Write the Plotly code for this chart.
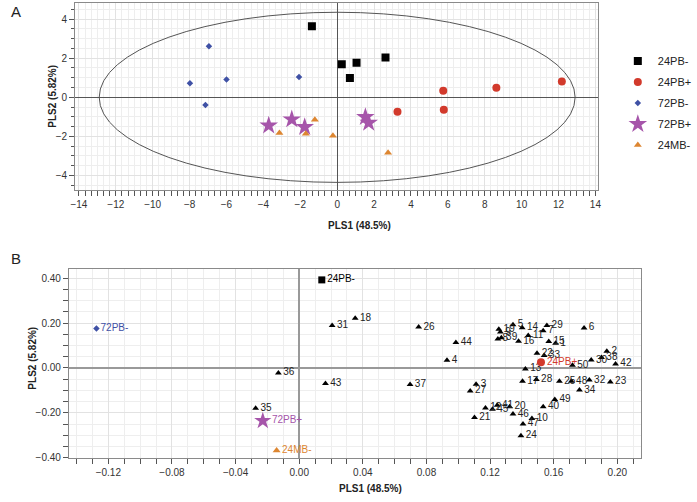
import plotly.graph_objects as go

# ---------------- Panel A data (PLS scores) ----------------
a_24pb_minus_x = [-1.37, 0.25, 1.05, 0.69, 2.62]
a_24pb_minus_y = [3.63, 1.69, 1.77, 0.99, 2.03]
a_24pb_plus_x = [12.18, 8.63, 5.75, 5.78, 3.27]
a_24pb_plus_y = [0.81, 0.49, 0.34, -0.64, -0.74]
a_72pb_minus_x = [-6.95, -7.98, -6.00, -2.07, -7.14]
a_72pb_minus_y = [2.61, 0.72, 0.91, 1.04, -0.39]
a_72pb_plus_x = [-3.71, -2.46, -1.76, 1.53, 1.71]
a_72pb_plus_y = [-1.44, -1.13, -1.52, -1.01, -1.30]
a_24mb_minus_x = [-3.13, -1.70, -1.21, -0.23, 2.76]
a_24mb_minus_y = [-1.82, -1.86, -1.15, -1.96, -2.84]
ellipse_rx = 12.9
ellipse_ry = 4.35

# ---------------- Panel B data (loadings) ----------------
b_group_names = ["24PB-", "24PB+", "72PB-", "72PB+", "24MB-"]
b_group_x = [0.0142, 0.1520, -0.1275, -0.0229, -0.0142]
b_group_y = [0.392, 0.025, 0.176, -0.235, -0.367]

b_var_labels = [str(i) for i in range(1, 51)]
b_var_x = [0.1612, 0.1934, 0.1112, 0.0929, 0.1344, 0.1791, 0.1534, 0.1249, 0.1265, 0.1463,
           0.1440, 0.1171, 0.1422, 0.1402, 0.1569, 0.1379, 0.1404, 0.0352, 0.1255, 0.1323,
           0.1102, 0.1495, 0.1956, 0.1394, 0.1636, 0.0751, 0.1075, 0.1491, 0.1557, 0.1836,
           0.0207, 0.1824, 0.1540, 0.1762, -0.0274, -0.0131, 0.0697, 0.1901, 0.1271, 0.1534,
           0.1245, 0.1989, 0.0165, 0.0985, 0.1215, 0.1344, 0.1407, 0.1711, 0.1607, 0.1718]
b_var_y = [0.110, 0.075, -0.072, 0.034, 0.192, 0.178, 0.166, 0.129, 0.160, -0.225,
           0.145, -0.178, -0.004, 0.179, 0.118, 0.119, -0.059, 0.221, 0.172, -0.173,
           -0.220, 0.066, -0.062, -0.301, -0.059, 0.182, -0.102, -0.051, 0.189, 0.035,
           0.189, -0.054, 0.056, -0.098, -0.179, -0.022, -0.073, 0.047, 0.135, -0.173,
           -0.166, 0.018, -0.069, 0.113, -0.184, -0.205, -0.249, -0.059, -0.140, 0.012]

# ---------------- styles ----------------
group_styles = {
    "24PB-": dict(color="#000000", symbol="square", a_size=8, b_size=7),
    "24PB+": dict(color="#d23a2c", symbol="circle", a_size=8, b_size=8),
    "72PB-": dict(color="#3f51a5", symbol="diamond", a_size=5, b_size=5),
    "72PB+": dict(color="#a655aa", symbol="star", a_size=14, b_size=13),
    "24MB-": dict(color="#dd8631", symbol="triangle-up", a_size=7, b_size=7),
}
a_data = {
    "24PB-": (a_24pb_minus_x, a_24pb_minus_y),
    "24PB+": (a_24pb_plus_x, a_24pb_plus_y),
    "72PB-": (a_72pb_minus_x, a_72pb_minus_y),
    "72PB+": (a_72pb_plus_x, a_72pb_plus_y),
    "24MB-": (a_24mb_minus_x, a_24mb_minus_y),
}

FONT = "Liberation Sans, Arial, sans-serif"
W, H = 697, 502

fig = go.Figure()

for name in b_group_names:
    st = group_styles[name]
    xs, ys = a_data[name]
    fig.add_trace(go.Scatter(
        x=xs, y=ys, mode="markers", name=name, xaxis="x", yaxis="y",
        legendgroup=name,
        marker=dict(symbol=st["symbol"], size=st["a_size"], color=st["color"],
                    line=dict(width=0)),
        showlegend=True,
    ))

# panel B variables
fig.add_trace(go.Scatter(
    x=b_var_x, y=b_var_y, mode="markers+text", text=b_var_labels,
    textposition="middle right", textfont=dict(family=FONT, size=10, color="#222222"),
    marker=dict(symbol="triangle-up", size=6, color="#000000"),
    xaxis="x2", yaxis="y2", showlegend=False, cliponaxis=False,
))
# panel B groups
for i, name in enumerate(b_group_names):
    st = group_styles[name]
    fig.add_trace(go.Scatter(
        x=[b_group_x[i]], y=[b_group_y[i]], mode="markers+text", text=[name],
        textposition="middle right",
        textfont=dict(family=FONT, size=10, color=st["color"]),
        marker=dict(symbol=st["symbol"], size=st["b_size"], color=st["color"], line=dict(width=0)),
        xaxis="x2", yaxis="y2", showlegend=False, cliponaxis=False,
    ))

def px_x(p):
    return p / W

def px_y(p):
    return 1 - p / H

axis_common = dict(
    showgrid=True, gridcolor="#e2e2e2", gridwidth=1,
    showline=True, linecolor="#8a8a8a", linewidth=1, mirror=True,
    ticks="outside", ticklen=5, tickcolor="#555555",
    tickfont=dict(family=FONT, size=10, color="#333333"),
    zeroline=True,
)

fig.update_layout(
    width=W, height=H,
    margin=dict(l=0, r=0, t=0, b=0),
    paper_bgcolor="white", plot_bgcolor="white",
    font=dict(family=FONT, size=10, color="#222222"),
    xaxis=dict(axis_common, domain=[px_x(72), px_x(610)], anchor="y",
               range=[-14.21, 14.16], dtick=2, tick0=0,
               minor=dict(dtick=2 / 6, showgrid=True, gridcolor="#eeeeee", ticks="outside",
                          ticklen=5, tickcolor="#555555"),
               zerolinecolor="#555555", zerolinewidth=1),
    yaxis=dict(axis_common, domain=[px_y(192), px_y(3)], anchor="x",
               range=[-4.744, 4.825], dtick=2, tick0=0,
               minor=dict(dtick=0.5, showgrid=True, gridcolor="#eeeeee", ticks="outside",
                          ticklen=3, tickcolor="#555555"),
               zerolinecolor="#555555", zerolinewidth=1),
    xaxis2=dict(axis_common, domain=[px_x(65.7), px_x(654)], anchor="y2",
                range=[-0.1448, 0.2150], dtick=0.04, tick0=0, tickformat=".2f",
                minor=dict(dtick=0.01, showgrid=True, gridcolor="#eeeeee", ticks="outside",
                           ticklen=5, tickcolor="#555555"),
                zerolinecolor="#999999", zerolinewidth=2),
    yaxis2=dict(axis_common, domain=[px_y(462.7), px_y(271.7)], anchor="x2",
                range=[-0.4009, 0.4405], dtick=0.2, tick0=0, tickformat=".2f",
                minor=dict(dtick=0.05, showgrid=True, gridcolor="#eeeeee", ticks="outside",
                           ticklen=5, tickcolor="#555555"),
                zerolinecolor="#999999", zerolinewidth=2),
    legend=dict(x=px_x(630), y=px_y(47), xanchor="left", yanchor="top",
                font=dict(family=FONT, size=11, color="#222222"),
                bgcolor="rgba(0,0,0,0)", tracegroupgap=2, itemwidth=30),
    shapes=[dict(type="circle", xref="x", yref="y",
                 x0=-ellipse_rx, x1=ellipse_rx, y0=-ellipse_ry, y1=ellipse_ry,
                 line=dict(color="#555555", width=1), layer="above")],
    annotations=[
        dict(text="A", x=px_x(4), y=px_y(12), xref="paper", yref="paper", showarrow=False,
             xanchor="left", yanchor="middle", font=dict(family=FONT, size=15, color="#222222")),
        dict(text="B", x=px_x(4), y=px_y(261), xref="paper", yref="paper", showarrow=False,
             xanchor="left", yanchor="middle", font=dict(family=FONT, size=15, color="#222222")),
        dict(text="<b>PLS1 (48.5%)</b>", x=px_x(364), y=px_y(228), xref="paper", yref="paper",
             showarrow=False, xanchor="center", yanchor="middle",
             font=dict(family=FONT, size=10, color="#222222")),
        dict(text="<b>PLS2 (5.82%)</b>", x=px_x(48), y=px_y(97), xref="paper", yref="paper",
             showarrow=False, xanchor="center", yanchor="middle", textangle=-90,
             font=dict(family=FONT, size=10, color="#222222")),
        dict(text="<b>PLS1 (48.5%)</b>", x=px_x(376), y=px_y(493), xref="paper", yref="paper",
             showarrow=False, xanchor="center", yanchor="middle",
             font=dict(family=FONT, size=10, color="#222222")),
        dict(text="<b>PLS2 (5.82%)</b>", x=px_x(28), y=px_y(362), xref="paper", yref="paper",
             showarrow=False, xanchor="center", yanchor="middle", textangle=-90,
             font=dict(family=FONT, size=10, color="#222222")),
    ],
)

# remove the browser's default page margin so the 697x502 figure fills the window exactly
fig.write_html("out.html", config={"displayModeBar": False},
               post_script="document.body.style.margin='0px';document.body.style.overflow='hidden';")
